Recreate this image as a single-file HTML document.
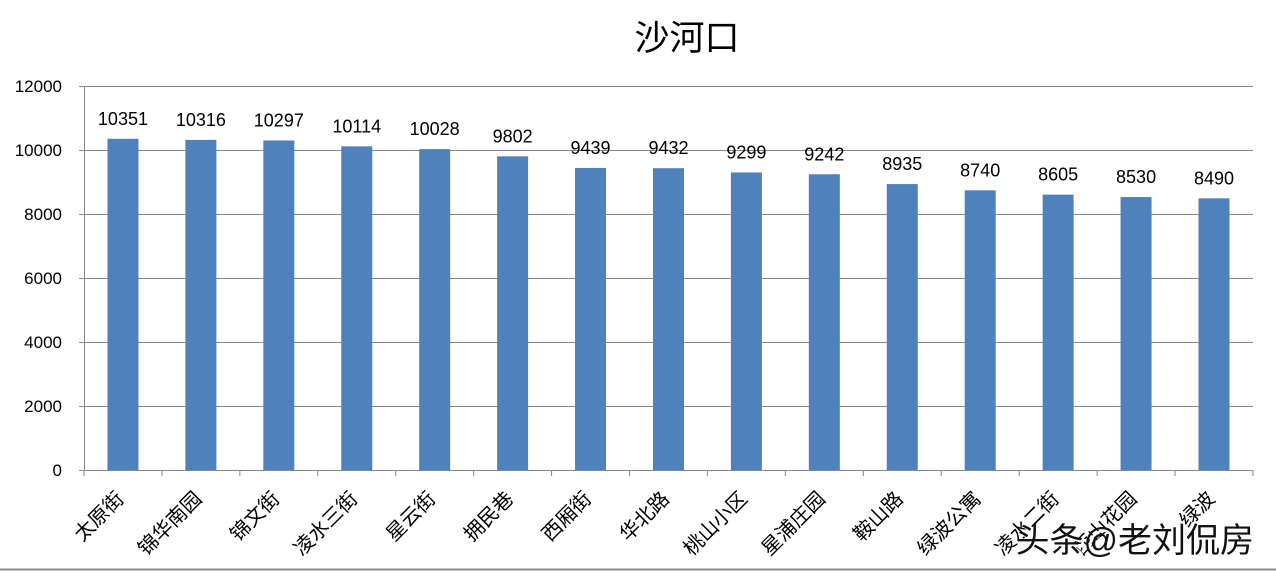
<!DOCTYPE html>
<html><head><meta charset="utf-8"><style>
body{margin:0;background:#fff;}
svg text{font-family:"Liberation Sans","Noto Sans CJK SC",sans-serif;}
</style></head><body>
<svg width="1276" height="571" viewBox="0 0 1276 571" xmlns="http://www.w3.org/2000/svg">
<rect width="1276" height="571" fill="#fff"/>
<text x="687" y="50" font-size="35" text-anchor="middle" font-family="'Noto Serif CJK SC','Noto Sans CJK SC',serif" fill="#000">沙河口</text>
<g stroke="#868686" stroke-width="1">
<line x1="79" y1="86.5" x2="1253" y2="86.5"/>
<line x1="79" y1="150.5" x2="1253" y2="150.5"/>
<line x1="79" y1="214.5" x2="1253" y2="214.5"/>
<line x1="79" y1="278.5" x2="1253" y2="278.5"/>
<line x1="79" y1="342.5" x2="1253" y2="342.5"/>
<line x1="79" y1="406.5" x2="1253" y2="406.5"/>
<line x1="79" y1="470.5" x2="1253" y2="470.5"/>
<line x1="84.5" y1="86" x2="84.5" y2="470"/>
</g>
<g font-size="17" text-anchor="end" fill="#000">
<text x="62" y="92">12000</text><text x="62" y="156">10000</text><text x="62" y="220">8000</text>
<text x="62" y="284">6000</text><text x="62" y="348">4000</text><text x="62" y="412">2000</text><text x="62" y="476">0</text>
</g>
<g id="bars"></g>
<line x1="0" y1="569.5" x2="1276" y2="569.5" stroke="#888" stroke-width="2"/>
<text x="1256" y="554" font-size="34" text-anchor="end" fill="#fff" font-weight="bold" font-family="'Noto Sans CJK SC',sans-serif">头条@老刘侃房</text>
<text x="1254" y="552" font-size="34" text-anchor="end" fill="#111" font-family="'Noto Sans CJK SC',sans-serif">头条@老刘侃房</text>
</svg>
<script>
var names=["太原街","锦华南园","锦文街","凌水三街","星云街","拥民巷","西厢街","华北路","桃山小区","星浦庄园","鞍山路","绿波公寓","凌水二街","西山花园","绿波"];
var vals=[10351,10316,10297,10114,10028,9802,9439,9432,9299,9242,8935,8740,8605,8530,8490];
var g=document.getElementById("bars"),s="";var w=77.93;
for(var i=0;i<15;i++){var cx=84+w*(i+0.5);var h=vals[i]*0.032;var y=470-h;
s+='<rect x="'+(cx-15.5)+'" y="'+y+'" width="31" height="'+h+'" fill="#4f81bd"/>';
s+='<text x="'+cx+'" y="'+(y-14)+'" font-size="18" text-anchor="middle" fill="#000">'+vals[i]+'</text>';
var tx=84+w*(i+1);
s+='<line x1="'+tx+'" y1="470" x2="'+tx+'" y2="476" stroke="#868686"/>';
s+='<text transform="translate('+(cx+2)+',500) rotate(-45)" font-size="20" text-anchor="end" fill="#000" font-family="\'Noto Serif CJK SC\',serif">'+names[i]+'</text>';}
s+='<line x1="84" y1="470" x2="84" y2="476" stroke="#868686"/>';
g.innerHTML=s;
</script>
</body></html>
